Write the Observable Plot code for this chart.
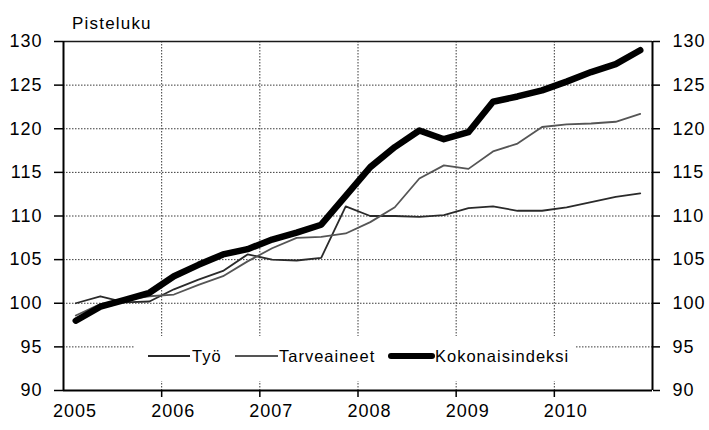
<!DOCTYPE html>
<html><head><meta charset="utf-8">
<script src="https://cdn.jsdelivr.net/npm/d3@7"></script>
<script src="https://cdn.jsdelivr.net/npm/@observablehq/plot@0.6"></script>
<style>
body{margin:0;background:#fff;}
#wrap{position:relative;width:709px;height:430px;font-family:"Liberation Sans",Arial,sans-serif;color:#000;}
#wrap svg text{letter-spacing:1px;}
.title{position:absolute;left:72px;top:15px;font-size:17px;line-height:17px;letter-spacing:1.2px;}
.legend{position:absolute;left:134px;top:336px;width:442px;height:45px;background:#fff;}
.legend .sw{position:absolute;}
.legend .lb{position:absolute;font-size:16.5px;line-height:17px;letter-spacing:1px;top:12px;}
</style></head><body><div id="wrap"></div>
<script>
const quarters = ["2005Q1","2005Q2","2005Q3","2005Q4","2006Q1","2006Q2","2006Q3","2006Q4",
  "2007Q1","2007Q2","2007Q3","2007Q4","2008Q1","2008Q2","2008Q3","2008Q4",
  "2009Q1","2009Q2","2009Q3","2009Q4","2010Q1","2010Q2","2010Q3","2010Q4"];
const tyo = [100.0,100.8,100.1,100.2,101.6,102.7,103.7,105.6,105.0,104.9,105.2,111.1,
  110.0,110.0,109.9,110.1,110.9,111.1,110.6,110.6,111.0,111.6,112.2,112.6];
const tarveaineet = [98.6,99.9,100.4,100.8,101.0,102.1,103.1,104.8,106.3,107.5,107.6,108.0,
  109.3,111.0,114.3,115.8,115.4,117.4,118.3,120.2,120.5,120.6,120.8,121.7];
const kokonaisindeksi = [98.0,99.6,100.4,101.2,103.1,104.4,105.6,106.2,107.3,108.1,109.0,112.3,
  115.6,117.9,119.8,118.8,119.6,123.1,123.7,124.4,125.4,126.5,127.4,129.0];
const seriesNames = ["Työ","Tarveaineet","Kokonaisindeksi"];
const seriesColors = ["#2a2a2a","#555555","#000000"];
const yearTicks = [2005,2006,2007,2008,2009,2010];
const yTicks = [90,95,100,105,110,115,120,125,130];
const yTitle = "Pisteluku";

const qpos = q => +q.slice(0,4) + (+q.slice(5) - 0.5) / 4;
const data = quarters.map((q,i) => ({x: qpos(q), tyo: tyo[i], tarv: tarveaineet[i], kok: kokonaisindeksi[i]}));
const gridStyle = {stroke:"#3a3a3a", strokeOpacity:1, strokeWidth:1, strokeDasharray:"1.5,1.5"};

const chart = Plot.plot({
  width:709, height:430,
  marginLeft:63, marginRight:57, marginTop:41, marginBottom:40,
  x:{domain:[2005,2011]},
  y:{domain:[90,130]},
  style:{fontFamily:'"Liberation Sans",Arial,sans-serif', background:"#fff", color:"#000"},
  marks:[
    Plot.gridX(yearTicks.slice(1), gridStyle),
    Plot.gridY(yTicks.slice(1,-1), gridStyle),
    Plot.ruleY([130], {stroke:"#1a1a1a", strokeWidth:1.3}),
    Plot.axisY(yTicks, {anchor:"left", tickSize:9, tickPadding:12, fontSize:18, label:null, strokeWidth:1.5}),
    Plot.axisY(yTicks, {anchor:"right", tickSize:7, tickPadding:13, fontSize:18, label:null, strokeWidth:1.5}),
    Plot.axisX(yearTicks, {anchor:"bottom", tickSize:0, tickPadding:14, dx:11.5, fontSize:18, tickFormat:d=>String(d), label:null}),
    Plot.axisX(yearTicks.slice(1), {anchor:"bottom", tickSize:7, tickFormat:()=>"", label:null, strokeWidth:1.5}),
    Plot.ruleX([2005, 2011], {stroke:"#000", strokeWidth:2}),
    Plot.ruleY([90], {stroke:"#000", strokeWidth:2}),
    Plot.line(data, {x:"x", y:"tyo", stroke:seriesColors[0], strokeWidth:1.8, strokeLinejoin:"round"}),
    Plot.line(data, {x:"x", y:"tarv", stroke:seriesColors[1], strokeWidth:1.8, strokeLinejoin:"round"}),
    Plot.line(data, {x:"x", y:"kok", stroke:seriesColors[2], strokeWidth:6.5, strokeLinejoin:"round", strokeLinecap:"round"})
  ]
});
const wrap = document.getElementById("wrap");
wrap.appendChild(chart);

const t = document.createElement("div");
t.className = "title"; t.textContent = yTitle; wrap.appendChild(t);

const lg = document.createElement("div");
lg.className = "legend";
const items = [
  {sx:14, sw:42, h:2, tx:58},
  {sx:101, sw:43, h:2, tx:145},
  {sx:254, sw:47, h:6, tx:301}
];
items.forEach((it,i) => {
  const s = document.createElement("div");
  s.className = "sw";
  s.style.left = it.sx + "px"; s.style.width = it.sw + "px";
  s.style.height = it.h + "px"; s.style.top = (20 - it.h/2) + "px";
  s.style.background = seriesColors[i];
  if (it.h > 3) s.style.borderRadius = "3px";
  lg.appendChild(s);
  const l = document.createElement("div");
  l.className = "lb"; l.style.left = it.tx + "px"; l.textContent = seriesNames[i];
  lg.appendChild(l);
});
wrap.appendChild(lg);
</script></body></html>
